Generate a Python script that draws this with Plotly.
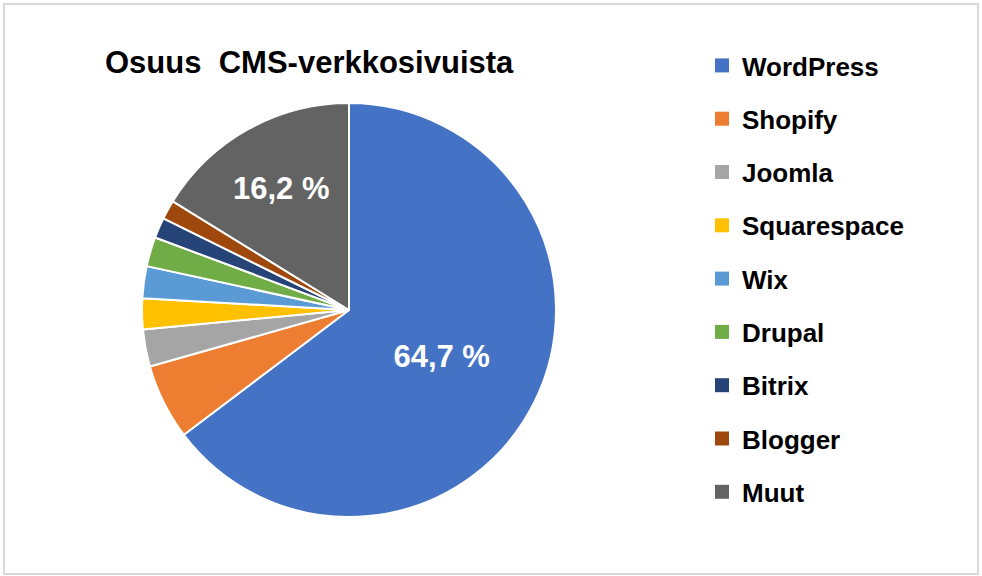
import plotly.graph_objects as go

cms = ['WordPress', 'Shopify', 'Joomla', 'Squarespace', 'Wix', 'Drupal', 'Bitrix', 'Blogger', 'Muut']
osuus = [64.7, 5.9, 2.9, 2.4, 2.5, 2.3, 1.6, 1.5, 16.2]
varit = ['#4472C4', '#ED7D31', '#A5A5A5', '#FFC000', '#5B9BD5', '#70AD47', '#264478', '#9E480E', '#636363']
nayta_arvo = ['WordPress', 'Muut']

W, H = 982, 576
fontti = 'Liberation Sans, Arial, sans-serif'

tekstit = [(f'{v:.1f}'.replace('.', ',') + ' %') if n in nayta_arvo else '' for n, v in zip(cms, osuus)]

fig = go.Figure()
fig.add_trace(go.Pie(
    labels=cms,
    values=osuus,
    text=tekstit,
    textinfo='text',
    textposition='inside',
    insidetextorientation='horizontal',
    textfont=dict(family=fontti, size=31, color='white', weight='bold'),
    marker=dict(colors=varit, line=dict(color='white', width=2)),
    sort=False,
    direction='clockwise',
    rotation=0,
    showlegend=False,
    domain=dict(x=[(349 - 207) / W, (349 + 207) / W], y=[1 - 517 / H, 1 - 103 / H]),
))

# selite omina jäljinään, jotta rivivälin saa samaksi kuin alkuperäisessä
for i, (n, c) in enumerate(zip(cms, varit)):
    fig.add_trace(go.Scatter(
        x=[None], y=[None], mode='markers', name=n,
        marker=dict(symbol='square', size=14, color=c),
        legendgroup=f'g{i}', showlegend=True,
    ))

fig.update_layout(
    width=W, height=H,
    margin=dict(l=0, r=0, t=0, b=0),
    paper_bgcolor='white',
    plot_bgcolor='white',
    xaxis=dict(visible=False),
    yaxis=dict(visible=False),
    title=dict(text='Osuus\u00a0\u00a0CMS-verkkosivuista', x=105 / W, xanchor='left',
               y=1 - 62 / H, yanchor='middle',
               font=dict(family=fontti, size=31, color='black', weight='bold')),
    legend=dict(x=702 / W, xanchor='left', y=1 - 42 / H, yanchor='top',
                traceorder='grouped', tracegroupgap=16.5,
                font=dict(family=fontti, size=26, color='black', weight='bold'),
                bgcolor='rgba(0,0,0,0)'),
    shapes=[dict(type='rect', xref='paper', yref='paper',
                 x0=4 / W, x1=978 / W, y0=1 - 574 / H, y1=1 - 4 / H,
                 line=dict(color='#d9d9d9', width=2), fillcolor='rgba(0,0,0,0)', layer='below')],
)

# sivun oletusmarginaali pois, ettei kuva siirry 8 px
fig.write_html('out.html', config={'displayModeBar': False},
               post_script="document.body.style.margin='0';")
